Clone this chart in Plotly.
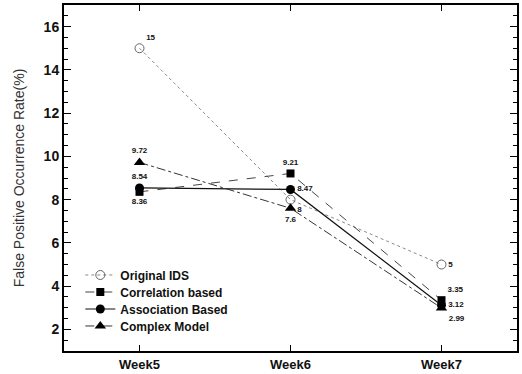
import plotly.graph_objects as go

weeks = ["Week5", "Week6", "Week7"]
original_ids = [15, 8, 5]
correlation_based = [8.36, 9.21, 3.35]
association_based = [8.54, 8.47, 3.12]
complex_model = [9.72, 7.6, 2.99]

orig_labels = ["15", "8", "5"]
corr_labels = ["8.36", "9.21", "3.35"]
assoc_labels = ["8.54", "8.47", "3.12"]
comp_labels = ["9.72", "7.6", "2.99"]

fig = go.Figure()

lblfont = dict(family="Arial", size=8, color="#111", weight="bold")

fig.add_trace(go.Scatter(
    x=weeks, y=original_ids, name="Original IDS", mode="lines+markers+text",
    line=dict(color="#888", width=1, dash="dot"),
    marker=dict(symbol="circle-open", size=9, color="#666", line=dict(width=1)),
    text=orig_labels, textposition=["top right", "bottom right", "middle right"],
    textfont=lblfont, legend="legend"))
fig.add_trace(go.Scatter(
    x=weeks, y=correlation_based, name="Correlation based", mode="lines+markers+text",
    line=dict(color="#444", width=1, dash="dash"),
    marker=dict(symbol="square", size=8, color="#000"),
    text=corr_labels, textposition=["bottom center", "top center", "top right"],
    textfont=lblfont, legend="legend2"))
fig.add_trace(go.Scatter(
    x=weeks, y=association_based, name="Association Based", mode="lines+markers+text",
    line=dict(color="#111", width=1.2),
    marker=dict(symbol="circle", size=9, color="#000"),
    text=assoc_labels, textposition=["top center", "middle right", "middle right"],
    textfont=lblfont, legend="legend3"))
fig.add_trace(go.Scatter(
    x=weeks, y=complex_model, name="Complex Model", mode="lines+markers+text",
    line=dict(color="#333", width=1, dash="dashdot"),
    marker=dict(symbol="triangle-up", size=10, color="#000"),
    text=comp_labels, textposition=["top center", "bottom center", "bottom right"],
    textfont=lblfont, legend="legend4"))

def leg(yc):
    return dict(x=0.036, y=yc, xanchor="left", yanchor="middle",
                font=dict(family="Arial", size=12, color="#111", weight="bold"),
                bgcolor="rgba(0,0,0,0)", itemwidth=30)

fig.update_layout(
    width=522, height=374,
    margin=dict(l=64, r=5, t=5, b=23),
    paper_bgcolor="white", plot_bgcolor="white",
    font=dict(family="Arial", color="#111"),
    showlegend=True,
    legend=leg(0.2197), legend2=leg(0.1705), legend3=leg(0.1214), legend4=leg(0.0723),
    xaxis=dict(type="category", range=[-0.5, 2.5], showline=True, linecolor="#000",
               linewidth=2, mirror="ticks", ticks="inside", ticklen=6, tickcolor="#000",
               showgrid=False, zeroline=False, ticklabelstandoff=0, automargin=False,
               tickfont=dict(family="Arial", size=13, color="#111", weight="bold")),
    yaxis=dict(range=[1, 17], dtick=2, showline=True, linecolor="#000", linewidth=2,
               mirror="ticks", ticks="inside", ticklen=7, tickcolor="#000",
               minor=dict(dtick=0.5, ticks="inside", ticklen=4, tickcolor="#000"),
               showgrid=False, zeroline=False, automargin=False,
               tickfont=dict(family="Arial", size=14, color="#111", weight="bold"),
               title=dict(text="False Positive Occurrence Rate(%)",
                          font=dict(family="Arial", size=14, color="#333"), standoff=16)),
)

fig.write_html("out.html")
